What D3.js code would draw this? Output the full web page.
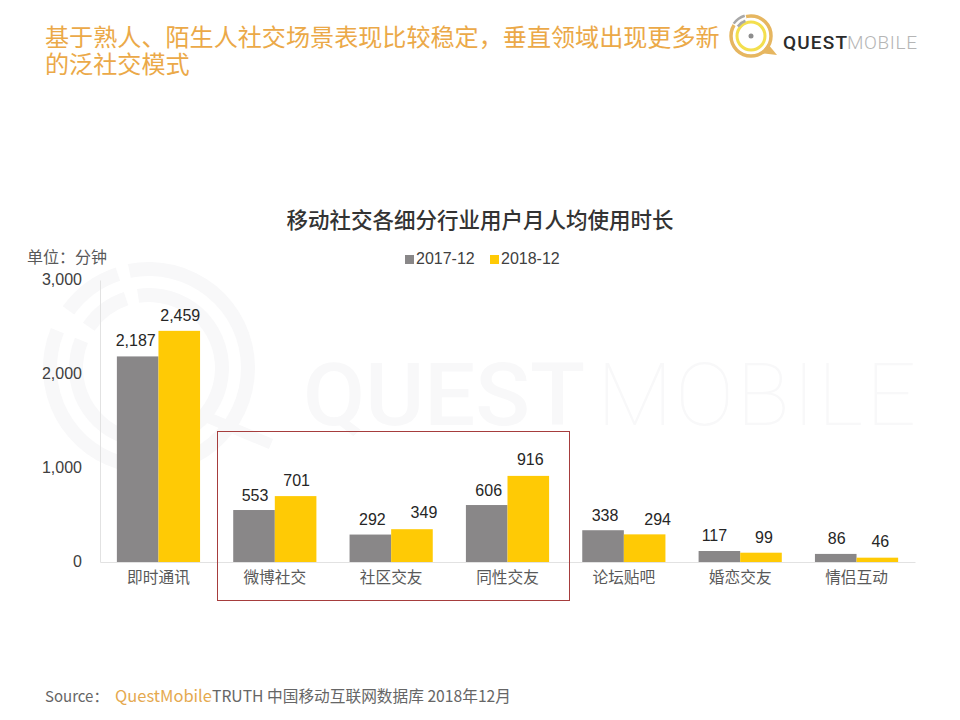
<!DOCTYPE html>
<html><head><meta charset="utf-8">
<script src="https://cdn.jsdelivr.net/npm/d3@7"></script>
<style>html,body{margin:0;padding:0;background:#fff}svg{display:block}</style>
</head><body><svg id="c" width="960" height="720"></svg>
<script>
const categories = ["即时通讯","微博社交","社区交友","同性交友","论坛贴吧","婚恋交友","情侣互动"];
const series2017 = [2187,553,292,606,338,117,86];
const series2018 = [2459,701,349,916,294,99,46];
const seriesNames = ["2017-12","2018-12"];
const yTicks = [0,1000,2000,3000];
const titleLines = ["基于熟人、陌生人社交场景表现比较稳定，垂直领域出现更多新","的泛社交模式"];
const chartTitle = "移动社交各细分行业用户月人均使用时长";
const unitLabel = "单位：分钟";

const GRAY="#898788", GOLD="#FFCA05", WM="#f8f8f9", CJK="'Noto Sans CJK SC','Noto Sans',sans-serif", LAT="'Liberation Sans',Arial,sans-serif";
const svg=d3.select("#c");
const x0=d3.scaleBand().domain(categories).range([100,915]).paddingInner(0.285).paddingOuter(0.145);
const x1=d3.scaleBand().domain(seriesNames).range([0,x0.bandwidth()]);
const y=d3.scaleLinear().domain([0,3000]).range([562,280]);
const arc=d3.arc();

// watermark
const wm=svg.append("g").attr("transform","translate(149,368)").attr("fill",WM);
[[92,106,-0.2,5.1],[92,106,-0.95,-0.32],[66,80,-0.15,5.1],[66,80,-0.97,-0.32]].forEach(([r0,r1,a,b])=>{
  wm.append("path").attr("d",arc({innerRadius:r0,outerRadius:r1,startAngle:a,endAngle:b}));
});
wm.append("path").attr("d","M60,50 L122,76").attr("stroke",WM).attr("stroke-width",11).attr("fill","none");
const wmt=svg.append("g").attr("font-family","Roboto,sans-serif").attr("font-size",88).attr("fill",WM);
wmt.append("text").attr("x",303).attr("y",425).attr("font-weight",500).attr("textLength",282).attr("lengthAdjust","spacingAndGlyphs").text("QUEST");
wmt.append("text").attr("x",597).attr("y",425).attr("font-weight",100).attr("textLength",319).attr("lengthAdjust","spacing").text("MOBILE");

// title
svg.append("g").selectAll("text").data(titleLines).join("text")
 .attr("x",45).attr("y",(d,i)=>46+i*27).attr("font-family",CJK).attr("font-size",24.1).attr("fill","#EBA948").text(d=>d);

// logo
const lg=svg.append("g").attr("transform","translate(751,36)").attr("fill","none");
lg.append("circle").attr("r",20).attr("stroke","#E6B660").attr("stroke-width",3.5);
lg.append("path").attr("d","M10,17 L26,19 L17,8 Z").attr("fill","#E6B660");
lg.append("circle").attr("r",14).attr("stroke","#F3DF4E").attr("stroke-width",3);
lg.append("circle").attr("r",2.5).attr("fill","#8d8d8d");
lg.append("path").attr("d",arc({innerRadius:18,outerRadius:22,startAngle:-1.0,endAngle:-0.25})).attr("fill","#fff");
lg.append("path").attr("d",arc({innerRadius:15,outerRadius:17.5,startAngle:-0.95,endAngle:-0.35})).attr("fill","#a8a8a8");
lg.append("path").attr("d",arc({innerRadius:20,outerRadius:22.5,startAngle:-0.95,endAngle:-0.3})).attr("fill","#a8a8a8");
const lf=svg.append("g").attr("font-family","Roboto,sans-serif").attr("font-size",19);
lf.append("text").attr("x",783).attr("y",49).attr("fill","#2b2b2b").attr("font-weight",500).attr("textLength",64).attr("lengthAdjust","spacing").text("QUEST");
lf.append("text").attr("x",847).attr("y",49).attr("fill","#b5b5b5").attr("font-weight",300).attr("textLength",70).attr("lengthAdjust","spacing").text("MOBILE");

// chart title, unit
svg.append("text").attr("x",480).attr("y",228).attr("text-anchor","middle").attr("font-family",CJK).attr("font-size",21.5).attr("font-weight",500).attr("fill","#333").text(chartTitle);
svg.append("text").attr("x",27).attr("y",263).attr("font-family",CJK).attr("font-size",16).attr("fill","#595959").text(unitLabel);

// legend
const leg=svg.append("g").selectAll("g").data(seriesNames).join("g").attr("transform",(d,i)=>`translate(${405+i*85},0)`);
leg.append("rect").attr("y",255).attr("width",9).attr("height",9).attr("fill",(d,i)=>i?GOLD:GRAY);
leg.append("text").attr("x",11).attr("y",264).attr("font-family",LAT).attr("font-size",16).attr("fill","#404040").text(d=>d);

// axes
const yAxis=svg.append("g").attr("transform","translate(100,0)").call(d3.axisLeft(y).tickValues(yTicks).tickSize(0).tickPadding(18).tickFormat(d3.format(",")));
yAxis.select(".domain").attr("stroke","#e2e2e2");
yAxis.selectAll("text").attr("font-family",LAT).attr("font-size",16).attr("fill","#404040").attr("dy","0.3em");
const xAxis=svg.append("g").attr("transform","translate(0,562)").call(d3.axisBottom(x0).tickSize(0).tickPadding(10));
xAxis.select(".domain").attr("stroke","#e2e2e2");
xAxis.selectAll("text").attr("font-family",CJK).attr("font-size",15.7).attr("fill","#595959");

// bars and labels
const labelDx=[[-2,1],[1,1],[2,12],[2,2],[2,13],[-5,3],[1,3]];
const labelDy=[[-2,-2],[-1,-2],[-2,-3],[-1,-3],[-1,-1],[-2,-2],[-2,-3]];
const rows=categories.map((c,i)=>({c,i,vals:[series2017[i],series2018[i]]}));
const g=svg.append("g").selectAll("g").data(rows).join("g").attr("transform",d=>`translate(${x0(d.c)},0)`);
const cells=g.selectAll("g").data(d=>d.vals.map((v,j)=>({v,j,i:d.i,n:seriesNames[j]}))).join("g");
cells.append("rect").attr("x",d=>x1(d.n)).attr("width",x1.bandwidth()).attr("y",d=>y(d.v)).attr("height",d=>y(0)-y(d.v)).attr("fill",d=>d.j?GOLD:GRAY);
cells.append("text").attr("x",d=>x1(d.n)+x1.bandwidth()/2+labelDx[d.i][d.j]).attr("y",d=>y(d.v)-8+labelDy[d.i][d.j]).attr("text-anchor","middle")
 .attr("font-family",LAT).attr("font-size",16).attr("fill","#262626").text(d=>d3.format(",")(d.v));

// highlight box
svg.append("rect").attr("x",217.5).attr("y",431.5).attr("width",352).attr("height",169).attr("fill","none").attr("stroke","#A63D3D").attr("stroke-width",1);

// source
const src=svg.append("g").attr("font-family",CJK).attr("fill","#666");
src.append("text").attr("x",45).attr("y",702).attr("font-size",15).text("Source：");
src.append("text").attr("x",115).attr("y",702).attr("font-size",16.5).attr("fill","#E5A94F").text("QuestMobile");
src.append("text").attr("x",212).attr("y",702).attr("font-size",15.7).text("TRUTH 中国移动互联网数据库 2018年12月");
</script></body></html>
